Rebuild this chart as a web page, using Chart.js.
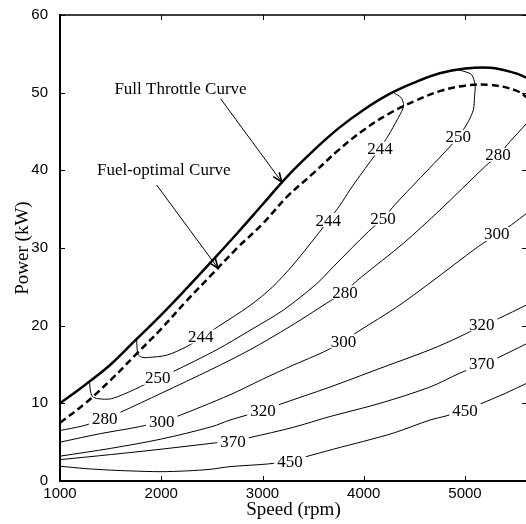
<!DOCTYPE html>
<html><head><meta charset="utf-8">
<script src="https://cdn.jsdelivr.net/npm/chart.js@4.4.1/dist/chart.umd.min.js"></script>
<style>html,body{margin:0;padding:0;overflow:hidden;background:#fff}#wrap{width:540px;height:524px}</style>
</head><body><div id="wrap"><canvas id="c" width="540" height="524"></canvas></div>
<script>
// ---- data (rpm, kW) ----
const xTicks = [1000, 2000, 3000, 4000, 5000];
const yTicks = [0, 10, 20, 30, 40, 50, 60];

const fullThrottle = [[1000,10.0],[1250,12.4],[1500,15.0],[1750,18.2],[2000,21.4],[2250,24.8],[2500,28.3],[2750,31.9],[3000,35.6],[3250,39.3],[3500,42.5],[3750,45.4],[4000,47.8],[4250,49.8],[4500,51.3],[4750,52.5],[5000,53.1],[5250,53.2],[5500,52.5],[5612,51.9]];
const fuelOptimal = [[1000,7.5],[1250,10.0],[1500,13.0],[1750,16.3],[2000,19.6],[2250,23.2],[2500,26.6],[2750,30.0],[3000,33.1],[3250,36.7],[3500,39.6],[3750,42.6],[4000,45.2],[4250,47.3],[4500,48.9],[4750,50.2],[5000,50.9],[5250,51.0],[5500,50.3],[5612,49.4]];

const c244 = [[1757,18.4],[1762,16.9],[1775,16.2],[1820,15.9],[1872,15.9],[2053,16.2],[2251,17.3],[2400,18.5],[2564,19.9],[2877,22.6],[3100,25.0],[3300,27.8],[3535,31.6],[3660,33.7],[3765,35.5],[3864,37.5],[4062,41.1],[4160,42.8],[4243,44.5],[4330,46.5],[4385,47.9],[4392,48.6],[4365,49.4],[4295,50.0]];
const c250 = [[1293,12.6],[1300,11.6],[1320,10.9],[1375,10.6],[1508,10.6],[1738,11.8],[1970,13.3],[2119,14.1],[2548,16.9],[2877,19.4],[3205,22.0],[3535,25.4],[3700,27.6],[4044,32.1],[4193,33.8],[4309,35.6],[4819,42.6],[4934,44.3],[5033,46.3],[5082,47.8],[5094,49.5],[5099,51.0],[5066,52.3],[5000,52.7],[4918,53.0]];
const c280 = [[1000,6.5],[1227,7.1],[1441,8.0],[1589,8.8],[2000,11.3],[2500,14.4],[2877,16.9],[3272,19.9],[3634,22.9],[3800,24.3],[3980,26.3],[4391,30.6],[4753,34.9],[5198,40.5],[5328,42.0],[5444,43.7],[5612,46.1]];
const c300 = [[1000,5.0],[1400,6.1],[1787,7.0],[2000,7.7],[2133,8.2],[2679,11.1],[3000,13.1],[3300,14.9],[3601,16.6],[3800,18.0],[3963,19.4],[4326,22.4],[4654,25.5],[5132,30.2],[5313,31.7],[5460,33.0],[5612,34.5]];
const c320 = [[1000,3.2],[1500,4.2],[2000,5.4],[2500,7.0],[2679,7.85],[3008,9.1],[3156,9.8],[3667,12.1],[4160,14.5],[4654,16.9],[4951,18.6],[5164,20.0],[5329,20.9],[5612,22.7]];
const c370 = [[1000,2.75],[1500,3.4],[2000,4.1],[2528,4.9],[2709,5.2],[2877,5.6],[3300,6.9],[3667,8.3],[4160,10.0],[4654,12.1],[4951,13.9],[5164,15.0],[5313,15.8],[5612,17.7]];
const c450 = [[1000,1.9],[1250,1.6],[1500,1.4],[1690,1.3],[1988,1.2],[2250,1.3],[2481,1.5],[2679,1.85],[3057,2.2],[3272,2.6],[3420,3.1],[3700,4.1],[3996,5.1],[4300,6.2],[4654,7.85],[4820,8.4],[5000,9.1],[5148,9.9],[5400,11.3],[5612,12.6]];

const contourLabels = [
  ['244',2390,18.6],['244',3650,33.6],['244',4160,42.8],
  ['250',1965,13.3],['250',4190,33.8],['250',4934,44.3],
  ['280',1441,8.1],['280',3815,24.3],['280',5326,42.0],
  ['300',2005,7.6],['300',3800,18.0],['300',5313,31.8],
  ['320',3005,9.1],['320',5164,20.2],
  ['370',2709,5.1],['370',5164,15.1],
  ['450',3272,2.5],['450',5000,9.1]
];
const noteTexts = [['Full Throttle Curve',2190,50.4],['Fuel-optimal Curve',2025,39.95]];
const noteArrows = [[2587,49.2,3190,38.5],[1955,38.1,2560,27.4]];

const toXY = a => a.map(p => ({x:p[0], y:p[1]}));
const thin = d => ({data:toXY(d), showLine:true, borderColor:'#000', borderWidth:1, pointRadius:0, tension:0.3, fill:false});

const extras = {
  id:'extras',
  afterDatasetsDraw(chart){
    const {ctx, scales:{x, y}} = chart;
    ctx.save();
    ctx.font = '17px "Liberation Serif"';
    ctx.textAlign = 'center'; ctx.textBaseline = 'middle';
    contourLabels.forEach(([t,r,k]) => {
      const px = x.getPixelForValue(r), py = y.getPixelForValue(k);
      const w = ctx.measureText(t).width;
      ctx.fillStyle = '#fff'; ctx.fillRect(px - w/2 - 3, py - 7, w + 6, 14);
      ctx.fillStyle = '#000'; ctx.fillText(t, px, py + 1);
    });
    noteTexts.forEach(([t,r,k]) => {
      ctx.fillText(t, x.getPixelForValue(r), y.getPixelForValue(k));
    });
    ctx.strokeStyle = '#000';
    noteArrows.forEach(([r1,k1,r2,k2]) => {
      const x1 = x.getPixelForValue(r1), y1 = y.getPixelForValue(k1);
      const x2 = x.getPixelForValue(r2), y2 = y.getPixelForValue(k2);
      ctx.lineWidth = 1;
      ctx.beginPath(); ctx.moveTo(x1,y1); ctx.lineTo(x2,y2); ctx.stroke();
      const ang = Math.atan2(y2-y1, x2-x1), L = 10, h = 0.38;
      ctx.lineWidth = 1.6;
      ctx.beginPath();
      ctx.moveTo(x2 - L*Math.cos(ang-h), y2 - L*Math.sin(ang-h));
      ctx.lineTo(x2, y2);
      ctx.lineTo(x2 - L*Math.cos(ang+h), y2 - L*Math.sin(ang+h));
      ctx.stroke();
    });
    ctx.restore();
  },
  afterDraw(chart){
    const {ctx, chartArea:a, scales:{x, y}} = chart;
    ctx.save();
    ctx.strokeStyle = '#000'; ctx.lineWidth = 1;
    ctx.beginPath();
    xTicks.forEach(v => {
      const px = Math.round(x.getPixelForValue(v)) + 0.5;
      ctx.moveTo(px, a.bottom); ctx.lineTo(px, a.bottom - 5);
      ctx.moveTo(px, a.top); ctx.lineTo(px, a.top + 5);
    });
    yTicks.forEach(v => {
      const py = Math.round(y.getPixelForValue(v)) + 0.5;
      ctx.moveTo(a.left, py); ctx.lineTo(a.left + 5, py);
      ctx.moveTo(a.right, py); ctx.lineTo(a.right - 5, py);
    });
    ctx.stroke();
    ctx.lineWidth = 1.5;
    ctx.beginPath();
    ctx.moveTo(a.left, a.top); ctx.lineTo(a.right, a.top); ctx.lineTo(a.right, a.bottom);
    ctx.stroke();
    ctx.restore();
  }
};

new Chart(document.getElementById('c'), {
  type:'scatter',
  data:{datasets:[
    thin(c244), thin(c250), thin(c280), thin(c300), thin(c320), thin(c370), thin(c450),
    {data:toXY(fuelOptimal), showLine:true, borderColor:'#000', borderWidth:2.5, borderDash:[7,4], pointRadius:0, tension:0.4, fill:false},
    {data:toXY(fullThrottle), showLine:true, borderColor:'#000', borderWidth:2.5, pointRadius:0, tension:0.4, fill:false}
  ]},
  options:{
    responsive:false, animation:false, devicePixelRatio:1,
    layout:{padding:{top:15, right:13, left:0, bottom:0}},
    plugins:{legend:{display:false}, tooltip:{enabled:false}},
    scales:{
      x:{type:'linear', min:1000, max:5612,
        afterBuildTicks:s => { s.ticks = xTicks.map(v => ({value:v})); },
        afterFit:s => { s.height = 43; },
        grid:{display:false},
        border:{display:true, width:2, color:'#000'},
        ticks:{color:'#000', font:{family:'Liberation Sans', size:15}, padding:-4, maxRotation:0, autoSkip:false, callback:v => String(v)},
        title:{display:true, text:'Speed (rpm)', color:'#000', font:{family:'Liberation Serif', size:19}, padding:{top:0, bottom:3}}
      },
      y:{type:'linear', min:0, max:60,
        afterBuildTicks:s => { s.ticks = yTicks.map(v => ({value:v})); },
        afterFit:s => { s.width = 60; },
        grid:{display:false},
        border:{display:true, width:2, color:'#000'},
        ticks:{color:'#000', font:{family:'Liberation Sans', size:15}, padding:4, autoSkip:false, callback:v => String(v)},
        title:{display:true, text:'Power (kW)', color:'#000', font:{family:'Liberation Serif', size:19}, padding:{top:12, bottom:0}}
      }
    }
  },
  plugins:[extras]
});
</script></body></html>
